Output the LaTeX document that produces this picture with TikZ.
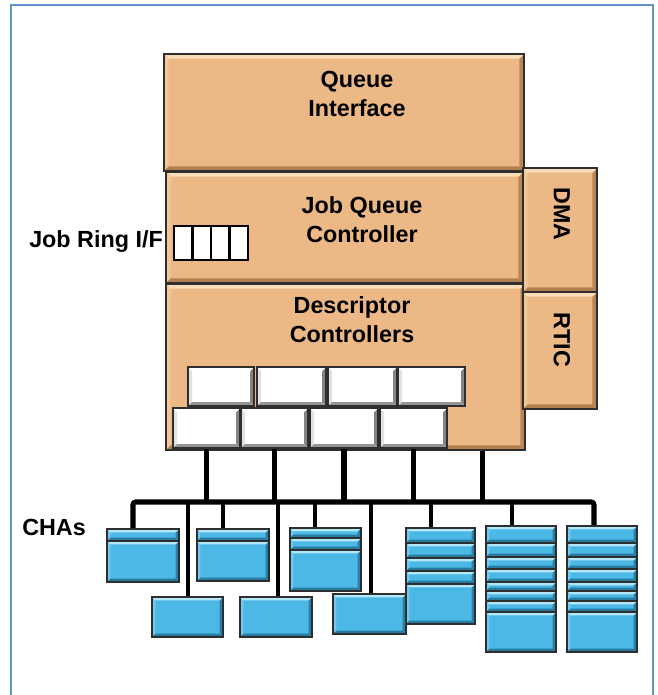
\documentclass[tikz,border=0pt]{standalone}
\usepackage{fontspec}
\setmainfont{Liberation Sans}
\usetikzlibrary{fit}
\definecolor{orf}{HTML}{EBB886}
\definecolor{ortop}{HTML}{FADCB8}
\definecolor{orleft}{HTML}{F2C697}
\definecolor{orright}{HTML}{B98658}
\definecolor{orbot}{HTML}{B08050}
\definecolor{blf}{HTML}{4BB8E5}
\definecolor{bltop}{HTML}{B2E8FA}
\definecolor{blleft}{HTML}{72CBEF}
\definecolor{blright}{HTML}{2A7FA6}
\definecolor{blbot}{HTML}{277AA0}
\definecolor{whtop}{HTML}{FFFFFF}
\definecolor{whleft}{HTML}{E2E2E2}
\definecolor{whright}{HTML}{858585}
\definecolor{whbot}{HTML}{959595}
\definecolor{edge}{HTML}{2E2E2E}
\definecolor{frame}{HTML}{6494CC}
\def\bvw{3pt}
\tikzset{
  bw/.code={\def\bvw{#1}},
  bev/.style n args={5}{fill=#1, path picture={
    \fill[#3] (path picture bounding box.north west) -- ([shift={(\bvw,-\bvw)}]path picture bounding box.north west) -- ([shift={(\bvw,\bvw)}]path picture bounding box.south west) -- (path picture bounding box.south west) -- cycle;
    \fill[#4] (path picture bounding box.north east) -- ([shift={(-\bvw,-\bvw)}]path picture bounding box.north east) -- ([shift={(-\bvw,\bvw)}]path picture bounding box.south east) -- (path picture bounding box.south east) -- cycle;
    \fill[#2] (path picture bounding box.north west) -- (path picture bounding box.north east) -- ([shift={(-\bvw,-\bvw)}]path picture bounding box.north east) -- ([shift={(\bvw,-\bvw)}]path picture bounding box.north west) -- cycle;
    \fill[#5] (path picture bounding box.south west) -- (path picture bounding box.south east) -- ([shift={(-\bvw,\bvw)}]path picture bounding box.south east) -- ([shift={(\bvw,\bvw)}]path picture bounding box.south west) -- cycle;
  }},
  orbox/.style={bw=3.4pt, bev={orf}{ortop}{orleft}{orright}{orbot}, draw=edge, line width=1.3pt, inner sep=0pt},
  whbox/.style={bw=3pt, bev={white}{whtop}{whleft}{whright}{whbot}, draw=edge, line width=1.2pt, inner sep=0pt},
  blsec/.style={bw=2.6pt, bev={blf}{bltop}{blleft}{blright}{blbot}, draw=edge, line width=1.1pt},
  stack/.style={draw=edge, line width=1.3pt, inner sep=0pt},
  txt/.style={font=\bfseries\fontsize{17.5}{21.75}\selectfont, align=center, inner sep=0pt, text=black},
  conn/.style={draw=black, line width=3.8pt},
  drop/.style={draw=black, line width=3.5pt},
}
\newcommand{\chastack}[3]{% x1, x2, list of y breaks
  \foreach \yy [count=\ii, remember=\yy as \prevy (initially 0)] in {#3} {%
    \ifnum\ii>1 \path[blsec] (#1,\prevy) rectangle (#2,\yy);\fi
  }%
}
\begin{document}
\begin{tikzpicture}[x=0.75pt, y=-0.75pt]
\useasboundingbox (0,0) rectangle (657,695);
\fill[white] (0,0) rectangle (657,695);
% frame
\draw[frame, line width=1.2pt] (11,695) -- (11,5) -- (653,5) -- (653,695);

% main blocks
\node[orbox, fit={(164,54)(524,171)}] (qi) {};
\node[orbox, fit={(166,172)(523,283)}] (jqc) {};
\node[orbox, fit={(166,284)(525,450)}] (desc) {};
\node[orbox, fit={(523,168)(597,292)}] (dma) {};
\node[orbox, fit={(523,292)(597,409)}] (rtic) {};

\node[txt] (tqi) at (357,94) {Queue\\Interface};
\node[txt] (tjqc) at (362,220) {Job Queue\\Controller};
\node[txt] (tdesc) at (352,319.5) {Descriptor\\Controllers};
\node[txt, rotate=-90] (tdma) at (562,214) {DMA};
\node[txt, rotate=-90] (trtic) at (562,340) {RTIC};

% job ring
\node[txt, anchor=base west] (tjr) at (29,247) {Job Ring I/F};
\node[draw=black, fill=white, line width=1.6pt, inner sep=0pt, fit={(174,226)(248,260)}] (jr) {};
\foreach \xx in {192.5,211,229.5} \draw[black, line width=1.6pt] (\xx,226) -- (\xx,260);

% descriptor controller boxes
\node[whbox, fit={(188,367)(254,406)}] (wu1) {};
\node[whbox, fit={(257,367)(326,406)}] (wu2) {};
\node[whbox, fit={(328,367)(397,406)}] (wu3) {};
\node[whbox, fit={(398,367)(465,406)}] (wu4) {};
\node[whbox, fit={(173,408)(240,448)}] (wl1) {};
\node[whbox, fit={(241,408)(308,448)}] (wl2) {};
\node[whbox, fit={(310,408)(378,448)}] (wl3) {};
\node[whbox, fit={(380,408)(447,448)}] (wl4) {};

% CHA stacks
\chastack{107}{179}{529,541,582}
\chastack{197}{269}{529,541,581}
\chastack{290}{361}{528,538,550,591}
\chastack{406}{475}{528,543,558,571,584,624}
\chastack{486}{556}{526,543,557,569,582,591,601,612,652}
\chastack{567}{637}{526,543,557,569,582,591,601,612,652}
\chastack{152}{223}{597,637}
\chastack{240}{312}{597,637}
\chastack{333}{406}{594,634}
\node[stack, fit={(107,529)(179,582)}] (cha1) {};
\node[stack, fit={(197,529)(269,581)}] (cha2) {};
\node[stack, fit={(290,528)(361,591)}] (cha3) {};
\node[stack, fit={(406,528)(475,624)}] (cha4) {};
\node[stack, fit={(486,526)(556,652)}] (cha5) {};
\node[stack, fit={(567,526)(637,652)}] (cha6) {};
\node[stack, fit={(152,597)(223,637)}] (cha7) {};
\node[stack, fit={(240,597)(312,637)}] (cha8) {};
\node[stack, fit={(333,594)(406,634)}] (cha9) {};

\node[txt, anchor=base west] (tcha) at (22,535) {CHAs};

% bus
\coordinate (bus) at (300,502);
\coordinate (d1) at ([xshift=-7.5pt]cha1.north);
\coordinate (d2) at ([xshift=-7.5pt]cha2.north);
\coordinate (d3) at ([xshift=-7.8pt]cha3.north);
\coordinate (d4) at ([xshift=-7.1pt]cha4.north);
\coordinate (d5) at ([xshift=-6.8pt]cha5.north);
\coordinate (d6) at ([xshift=-6pt]cha6.north);
\coordinate (d7) at ([xshift=0.4pt]cha7.north);
\coordinate (d8) at ([xshift=1.5pt]cha8.north);
\coordinate (d9) at ([xshift=1.1pt]cha9.north);
\coordinate (u5) at ([xshift=103pt]desc.south);

\foreach \w in {wl1,wl2,wl3,wl4} \draw[conn] (\w.south) -- (\w.south |- bus);
\draw[conn] (u5) -- (u5 |- bus);
\draw[conn, rounded corners=2pt] (d1) -- (d1 |- bus) -- (d6 |- bus) -- (d6);
\foreach \d in {d2,d3,d4,d5,d7,d8,d9} \draw[drop] (\d) -- (\d |- bus);
\end{tikzpicture}
\end{document}
